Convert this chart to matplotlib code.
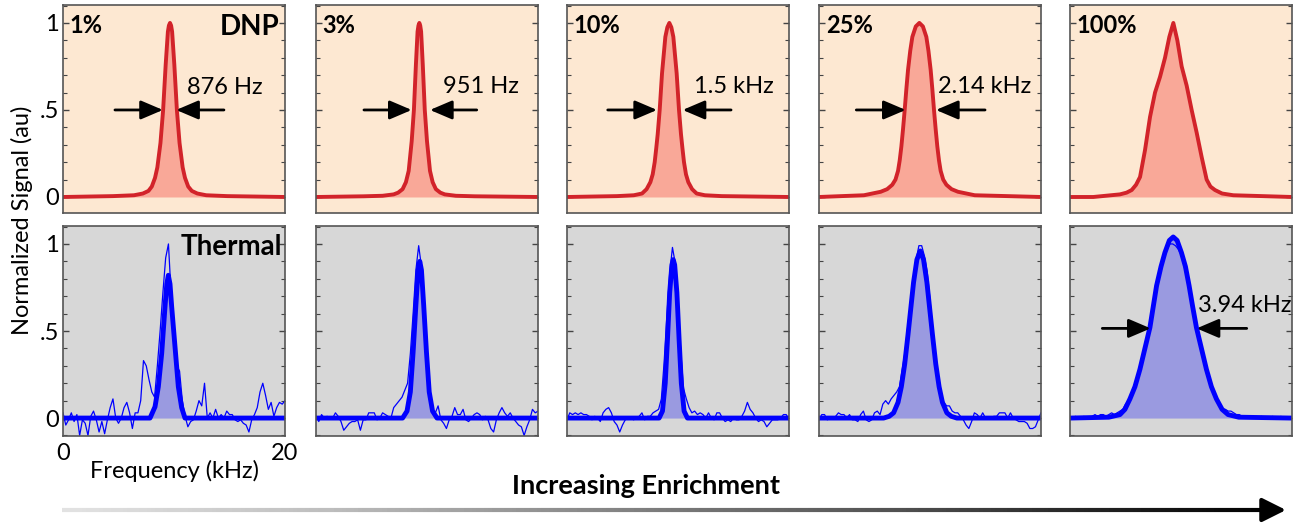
import numpy as np
import matplotlib.pyplot as plt
from matplotlib.collections import LineCollection
from matplotlib.ticker import FixedLocator, MultipleLocator

plt.rcParams['font.family'] = ['Lato', 'DejaVu Sans']

enrichment = ['1%', '3%', '10%', '25%', '100%']
width_labels = ['876 Hz', '951 Hz', '1.5 kHz', '2.14 kHz', '3.94 kHz']

# DNP spectra, frequency in kHz and normalized signal
dnp_f = [
    [0, 4.5, 6.4, 7.2, 7.7, 8.0, 8.29, 8.5, 8.78, 9.02, 9.25, 9.45, 9.54, 9.64, 9.74, 9.83, 10.03, 10.26, 10.5,
     10.78, 10.99, 11.28, 11.6, 12.1, 12.9, 14.8, 20],
    [0, 4.3, 6.0, 7.0, 7.4, 7.8, 8.1, 8.35, 8.62, 8.82, 9.0, 9.15, 9.23, 9.31, 9.39, 9.47, 9.62, 9.8, 10.0,
     10.27, 10.51, 10.8, 11.2, 11.6, 12.6, 14.3, 20],
    [0, 4.5, 6.02, 6.76, 7.17, 7.51, 7.72, 7.9, 8.04, 8.17, 8.35, 8.56, 8.86, 9.04, 9.22, 9.4, 9.58, 9.88, 10.09,
     10.27, 10.4, 10.54, 10.72, 10.93, 11.27, 11.68, 12.42, 13.94, 20],
    [0, 4.05, 5.56, 6.14, 6.6, 6.89, 7.12, 7.27, 7.42, 7.57, 7.72, 7.87, 8.02, 8.22, 8.41, 8.72, 9.04, 9.36, 9.67,
     9.86, 10.06, 10.21, 10.36, 10.51, 10.66, 10.81, 10.96, 11.19, 11.48, 11.94, 12.52, 14.03, 20],
    [0, 2.1, 4.5, 5.1, 5.56, 5.95, 6.31, 6.76, 7.21, 7.66, 8.11, 8.56, 8.95, 9.31, 9.67, 10.06, 10.51, 10.96,
     11.41, 11.86, 12.31, 12.65, 13.06, 13.7, 14.71, 20],
]
dnp_s = [
    [0, 0.005, 0.01, 0.02, 0.035, 0.06, 0.11, 0.17, 0.31, 0.5, 0.76, 0.95, 0.985, 1.0, 0.985, 0.95, 0.76, 0.5, 0.31,
     0.17, 0.11, 0.06, 0.035, 0.02, 0.01, 0.005, 0],
    [0, 0.004, 0.007, 0.015, 0.025, 0.045, 0.085, 0.15, 0.32, 0.5, 0.76, 0.95, 0.985, 1.0, 0.985, 0.95, 0.76, 0.5,
     0.32, 0.15, 0.085, 0.045, 0.025, 0.015, 0.007, 0.004, 0],
    [0, 0.005, 0.01, 0.02, 0.045, 0.085, 0.13, 0.2, 0.28, 0.36, 0.5, 0.71, 0.92, 0.975, 1.0, 0.975, 0.92, 0.71, 0.5,
     0.36, 0.28, 0.2, 0.13, 0.085, 0.045, 0.02, 0.01, 0.005, 0],
    [0, 0.01, 0.03, 0.045, 0.07, 0.1, 0.15, 0.21, 0.29, 0.39, 0.5, 0.62, 0.73, 0.84, 0.92, 0.98, 1.0, 0.98, 0.92,
     0.84, 0.73, 0.62, 0.5, 0.39, 0.29, 0.21, 0.15, 0.1, 0.07, 0.045, 0.03, 0.01, 0],
    [0, 0, 0.015, 0.025, 0.04, 0.07, 0.115, 0.27, 0.46, 0.6, 0.69, 0.8, 0.92, 1.0, 0.9, 0.75, 0.64, 0.5,
     0.37, 0.23, 0.1, 0.06, 0.04, 0.02, 0.01, 0],
]

# thermal fits
fit_f = [
    [0, 7.84, 8.29, 8.59, 8.89, 9.19, 9.35, 9.49, 9.64, 9.79, 10.09, 10.39, 10.69, 10.99, 20],
    [0, 7.8, 8.2, 8.5, 8.75, 9.0, 9.2, 9.35, 9.5, 9.7, 9.95, 10.2, 10.5, 10.9, 20],
    [0, 8.3, 8.6, 8.85, 9.05, 9.25, 9.45, 9.57, 9.7, 9.9, 10.1, 10.3, 10.55, 10.85, 20],
    [0, 5.82, 6.32, 6.72, 7.12, 7.42, 7.72, 8.02, 8.22, 8.52, 8.82, 9.12, 9.42, 9.72, 10.02, 10.22, 10.52, 10.82,
     11.12, 11.52, 11.92, 12.42, 20],
    [0, 3.5, 4.5, 4.95, 5.4, 5.85, 6.3, 6.75, 7.2, 7.5, 7.8, 8.2, 8.55, 8.95, 9.3, 9.65, 10.04, 10.4, 10.73,
     11.05, 11.39, 11.84, 12.29, 12.74, 13.19, 13.7, 14.24, 15.2, 20],
]
fit_s = [
    [0, 0, 0.065, 0.18, 0.37, 0.64, 0.77, 0.82, 0.77, 0.64, 0.41, 0.18, 0.06, 0, 0],
    [0, 0, 0.04, 0.15, 0.38, 0.65, 0.85, 0.9, 0.85, 0.65, 0.38, 0.15, 0.04, 0, 0],
    [0, 0, 0.04, 0.2, 0.45, 0.72, 0.88, 0.91, 0.88, 0.72, 0.45, 0.2, 0.04, 0, 0],
    [0, 0, 0.01, 0.03, 0.09, 0.18, 0.31, 0.48, 0.6, 0.78, 0.91, 0.96, 0.91, 0.78, 0.6, 0.48, 0.31, 0.18,
     0.09, 0.03, 0.01, 0, 0],
    [0, 0.005, 0.02, 0.05, 0.11, 0.18, 0.28, 0.40, 0.52, 0.64, 0.76, 0.87, 0.95, 1.02, 1.04, 1.02, 0.95, 0.87, 0.76,
     0.64, 0.52, 0.40, 0.28, 0.18, 0.11, 0.05, 0.02, 0.005, 0],
]

# raw thermal spectra, sampled every 0.25 kHz from 0 to 20 kHz
raw_f = np.arange(81) * 0.25
raw_s = [
    [0.03, -0.04, -0.01, 0.03, -0.02, 0.02, -0.10, -0.01, -0.03, -0.10,
     0.01, 0.04, -0.01, -0.08, -0.02, -0.09, -0.01, 0.06, 0.11, 0.00,
     -0.03, 0.00, 0.06, 0.09, 0.03, -0.06, 0.03, 0.03, 0.10, 0.33,
     0.30, 0.22, 0.15, 0.12, 0.30, 0.50, 0.72, 0.92, 1.00, 0.70,
     0.50, 0.30, 0.27, 0.10, 0.01, -0.05, -0.02, -0.01, 0.04, 0.10,
     0.07, 0.20, 0.00, 0.03, 0.00, 0.05, 0.00, 0.02, 0.00, 0.04,
     0.02, 0.02, -0.01, -0.02, -0.01, -0.03, -0.04, -0.08, -0.01, 0.02,
     0.06, 0.15, 0.20, 0.13, 0.05, 0.09, 0.01, 0.06, 0.09, 0.08,
     0.10],
    [0.01, -0.02, 0.02, 0.00, 0.01, 0.00, 0.00, 0.03, 0.01, -0.02,
     -0.07, -0.05, -0.03, -0.02, -0.02, -0.01, -0.07, -0.01, -0.01, 0.03,
     0.03, 0.03, -0.01, 0.00, 0.03, 0.02, 0.01, 0.00, 0.06, 0.08,
     0.10, 0.12, 0.16, 0.20, 0.37, 0.60, 0.85, 0.99, 0.87, 0.64,
     0.32, 0.10, 0.05, 0.03, 0.07, -0.01, -0.03, -0.06, -0.01, 0.01,
     0.06, 0.02, 0.02, 0.05, -0.01, -0.02, 0.00, 0.02, 0.03, 0.02,
     -0.01, 0.01, -0.01, -0.06, -0.08, -0.01, 0.03, 0.06, 0.03, 0.01,
     0.03, 0.00, -0.02, -0.04, -0.05, -0.10, -0.05, -0.01, 0.05, 0.03,
     0.04],
    [-0.01, 0.03, 0.02, 0.03, 0.02, 0.03, 0.02, 0.02, 0.01, -0.01,
     0.01, 0.00, -0.02, 0.03, 0.05, 0.06, 0.03, -0.02, -0.04, -0.08,
     -0.04, -0.01, 0.00, 0.00, -0.01, 0.00, 0.01, 0.03, -0.01, 0.01,
     0.01, 0.03, 0.04, 0.05, 0.11, 0.32, 0.59, 0.83, 0.98, 0.89,
     0.66, 0.38, 0.17, 0.11, 0.06, 0.03, 0.04, 0.02, 0.03, 0.02,
     0.00, 0.03, 0.00, -0.01, 0.03, 0.03, 0.00, -0.02, -0.01, -0.02,
     0.00, -0.01, -0.01, 0.01, 0.04, 0.09, 0.05, 0.03, 0.00, -0.02,
     -0.01, -0.02, -0.05, -0.03, -0.01, -0.01, -0.01, 0.00, 0.02, 0.02,
     -0.01],
    [-0.01, 0.02, 0.02, -0.01, 0.00, 0.00, 0.01, 0.03, 0.02, 0.02,
     0.00, 0.02, -0.01, -0.01, -0.02, 0.02, 0.04, -0.01, -0.02, -0.01,
     0.03, 0.04, 0.02, 0.08, 0.10, 0.08, 0.11, 0.13, 0.15, 0.18,
     0.28, 0.38, 0.53, 0.66, 0.80, 0.91, 0.99, 0.99, 0.93, 0.84,
     0.68, 0.49, 0.33, 0.20, 0.13, 0.09, 0.07, 0.07, 0.04, 0.03,
     0.03, 0.01, -0.01, -0.04, -0.06, -0.02, 0.03, 0.02, 0.00, 0.03,
     0.00, 0.00, 0.00, 0.01, 0.01, 0.03, 0.03, 0.03, 0.00, 0.03,
     0.00, -0.01, -0.02, -0.02, -0.02, -0.03, -0.06, -0.06, -0.05, -0.01,
     0.03],
    [0.00, 0.00, 0.01, 0.00, 0.00, 0.01, 0.00, 0.00, 0.01, 0.02,
     0.01, 0.02, 0.02, 0.01, 0.02, 0.03, 0.02, 0.03, 0.04, 0.05,
     0.08, 0.10, 0.14, 0.18, 0.23, 0.28, 0.34, 0.40, 0.46, 0.52,
     0.61, 0.71, 0.80, 0.88, 0.93, 0.97, 1.00, 1.00, 0.99, 0.97,
     0.94, 0.88, 0.81, 0.74, 0.65, 0.56, 0.48, 0.41, 0.34, 0.28,
     0.22, 0.17, 0.13, 0.10, 0.07, 0.05, 0.05, 0.04, 0.04, 0.03,
     0.02, 0.02, 0.01, 0.00, 0.01, 0.00, 0.01, 0.00, 0.00, 0.01,
     0.00, 0.00, 0.00, 0.01, 0.00, 0.00, 0.01, 0.00, 0.00, 0.00,
     0.00],
]

# width markers: (left arrow start, left tip, right tip, right arrow start, y), label (x, y)
marks = [
    (4.68, 9.0, 10.2, 14.5, 0.5, 11.17, 0.63),
    (4.32, 8.62, 10.27, 14.48, 0.5, 11.47, 0.634),
    (3.67, 8.11, 10.42, 14.78, 0.5, 11.41, 0.634),
    (3.36, 7.81, 10.54, 14.96, 0.5, 10.72, 0.634),
    (2.91, 7.27, 11.41, 15.92, 0.515, 11.56, 0.644),
]

W, H = 1304, 527
lefts = [63, 316, 567, 819, 1070]
red, salmon, peach = '#d2232a', '#f9a898', '#fde8d2'
blue, lilac, grey = '#0000ff', '#9a9ae0', '#d7d7d7'

fig = plt.figure(figsize=(W / 100, H / 100), dpi=100)

over = fig.add_axes([0, 0, 1, 1], zorder=-1)
over.set_xlim(0, 1)
over.set_ylim(0, 1)
over.axis('off')


def style(ax, show_labels):
    ax.set_xlim(0, 20)
    ax.yaxis.set_major_locator(FixedLocator([0, 0.5, 1]))
    ax.yaxis.set_minor_locator(MultipleLocator(0.1))
    ax.tick_params(axis='y', which='both', direction='in', left=True, right=True,
                   colors='#444444', labelcolor='k', labelsize=17, pad=3)
    ax.tick_params(axis='y', which='major', length=4, width=1)
    ax.tick_params(axis='y', which='minor', length=3, width=0.8)
    if show_labels:
        ax.set_yticklabels(['0', '.5', '1'])
    else:
        ax.tick_params(axis='y', labelleft=False)
    for s in ax.spines.values():
        s.set_color('#555555')
        s.set_linewidth(1.2)


def width_arrows(ax, m):
    ap = dict(arrowstyle='-|>,head_length=0.75,head_width=0.32', color='k', lw=2,
              mutation_scale=18, shrinkA=0, shrinkB=0)
    ax.annotate('', xy=(m[1], m[4]), xytext=(m[0], m[4]), arrowprops=ap)
    ax.annotate('', xy=(m[2], m[4]), xytext=(m[3], m[4]), arrowprops=ap)


for i in range(5):
    ax = fig.add_axes([lefts[i] / W, (H - 213) / H, 222 / W, 208 / H])
    ax.set_facecolor(peach)
    ax.fill_between(dnp_f[i], 0, dnp_s[i], color=salmon, lw=0)
    ax.plot(dnp_f[i], dnp_s[i], color=red, lw=2.8, solid_joinstyle='round')
    ax.set_ylim(-0.092, 1.103)
    ax.set_xticks([])
    style(ax, i == 0)
    ax.text(0.03, 0.955, enrichment[i], transform=ax.transAxes, ha='left', va='top',
            fontsize=17, fontweight='bold')
    if i < 4:
        m = marks[i]
        width_arrows(ax, m)
        ax.text(m[5], m[6], width_labels[i], ha='left', va='center', fontsize=17)
    if i == 0:
        ax.text(0.975, 0.955, 'DNP', transform=ax.transAxes, ha='right', va='top',
                fontsize=20, fontweight='bold')

    ax = fig.add_axes([lefts[i] / W, (H - 436) / H, 222 / W, 210 / H])
    ax.set_facecolor(grey)
    ax.fill_between(fit_f[i], 0, fit_s[i], color=lilac, lw=0)
    ax.plot(raw_f, raw_s[i], color=blue, lw=0.9)
    ax.plot(fit_f[i], fit_s[i], color=blue, lw=3.5, solid_joinstyle='round')
    ax.set_ylim(-0.103, 1.103)
    style(ax, i == 0)
    if i == 0:
        ax.set_xticks([0, 20])
        ax.set_xticklabels(['0', '20'])
        ax.tick_params(axis='x', length=0, labelsize=17, pad=5)
        ax.text(0.985, 0.96, 'Thermal', transform=ax.transAxes, ha='right', va='top',
                fontsize=20, fontweight='bold')
    else:
        ax.set_xticks([])
    if i == 4:
        m = marks[i]
        width_arrows(ax, m)
        ax.text(m[5], m[6], width_labels[i], ha='left', va='center', fontsize=17)

fig.text(22 / W, 1 - 220 / H, 'Normalized Signal (au)', rotation=90, ha='center', va='center', fontsize=17)
fig.text(175 / W, 1 - 471 / H, 'Frequency (kHz)', ha='center', va='center', fontsize=17)
fig.text(646 / W, 1 - 486 / H, 'Increasing Enrichment', ha='center', va='center',
         fontsize=19.5, fontweight='bold')

# gradient arrow along the bottom
y0 = 1 - 510 / H
xs = np.linspace(62 / W, 1275 / W, 300)
segs = [[(xs[k], y0), (xs[k + 1], y0)] for k in range(len(xs) - 1)]
lc = LineCollection(segs, cmap='Greys', linewidths=3, capstyle='butt')
lc.set_array(np.linspace(0.2, 1.0, len(segs)))
lc.set_clim(0, 1)
over.add_collection(lc)
over.annotate('', xy=(1286 / W, y0), xytext=(1268 / W, y0),
              arrowprops=dict(arrowstyle='-|>,head_length=0.8,head_width=0.4', color='k', lw=3,
                              mutation_scale=18, shrinkA=0, shrinkB=0))

fig.savefig('out.png', dpi=100)
